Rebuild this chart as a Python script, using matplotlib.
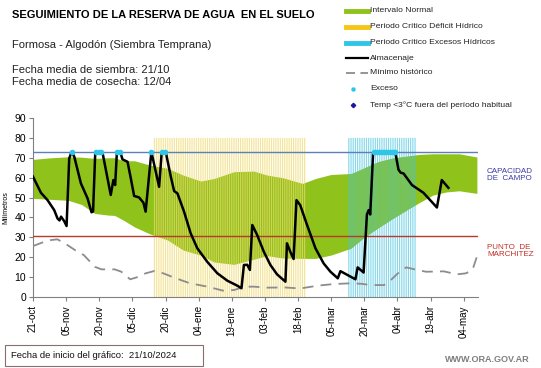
import numpy as np
import matplotlib
matplotlib.use("Agg")
import matplotlib.pyplot as plt
from matplotlib.lines import Line2D
from matplotlib.patches import Rectangle

plt.rcParams['font.family'] = ['Liberation Sans', 'DejaVu Sans']

# ---------------- data (x = days since 21/10/2024) ----------------
tick_days = [0, 15, 30, 45, 60, 75, 90, 105, 120, 135, 150, 165, 180, 195]
tick_labels = ["21-oct", "05-nov", "20-nov", "05-dic", "20-dic", "04-ene", "19-ene",
               "03-feb", "18-feb", "05-mar", "20-mar", "04-abr", "19-abr", "04-may"]

band_days = [0, 8, 16, 22, 28, 34, 37, 41, 46, 53, 61, 68, 76, 82, 91, 100, 106,
             113, 122, 128, 135, 144, 150, 156, 163, 170, 175, 181, 187, 193, 201]
band_upper = [69.2, 70.0, 70.5, 70.3, 69.7, 70.0, 70.0, 68.5, 68.5, 66.3, 64.7, 61.3,
              58.3, 59.6, 63.0, 63.3, 61.3, 60.0, 57.1, 59.6, 61.6, 62.1, 65.0, 68.0,
              70.0, 71.0, 71.7, 72.0, 72.0, 72.0, 70.4]
band_lower = [49.6, 49.1, 48.6, 46.5, 42.0, 41.2, 41.0, 38.6, 35.2, 31.7, 28.6, 23.6,
              21.0, 17.6, 16.4, 19.0, 20.8, 19.6, 19.4, 19.4, 21.1, 24.5, 30.0, 34.5,
              39.5, 44.2, 47.5, 51.2, 52.8, 53.4, 52.1]

min_days = [0, 4, 8, 11, 14, 19, 23, 28, 31, 37, 40, 44, 47, 51, 55, 59, 64, 71, 79,
            86, 91, 96, 100, 106, 114, 121, 129, 136, 144, 149, 153, 159, 162, 166,
            169, 174, 178, 186, 192, 196, 199, 201]
min_vals = [25.6, 27.3, 28.6, 29.0, 27.3, 23.6, 21.1, 15.2, 13.9, 13.9, 12.7, 8.9,
            9.9, 11.9, 13.1, 11.9, 9.7, 6.9, 5.2, 3.2, 3.5, 5.2, 5.2, 4.7, 4.8, 4.3,
            5.7, 6.5, 6.9, 6.6, 6.0, 6.0, 8.5, 12.7, 14.9, 13.6, 12.7, 12.9, 11.4,
            11.9, 13.6, 20.3]

alm_days = [0, 3.6, 6.6, 9.6, 11.1, 12.0, 12.7, 14.1, 15.2, 16.4, 17.5, 18.7, 21.7,
            24.7, 26.5, 27.2, 28.2, 31.5, 35.2, 36.4, 37.2, 38.0, 39.5, 40.5, 42.8,
            44.3, 45.8, 48.0, 50.0, 51.0, 53.6, 57.1, 58.3, 60.1, 62.4, 63.9, 65.4,
            68.4, 71.4, 74.4, 78.9, 83.5, 88.0, 92.5, 94.4, 95.5, 97.0, 98.2, 99.3,
            101.5, 104.5, 107.5, 110.5, 114.3, 115.0, 116.5, 118.0, 119.3, 121.0,
            124.1, 127.9, 131.6, 134.7, 138.0, 139.2, 146.0, 147.0, 149.7, 151.2,
            152.0, 152.7, 154.0, 164.0, 165.5, 166.5, 167.8, 171.6, 176.8, 182.9,
            185.1, 188.1]
alm_vals = [60.5, 52.4, 48.7, 43.7, 39.5, 38.5, 40.4, 38.2, 35.7, 69.7, 73.0, 70.5,
            57.1, 49.6, 42.6, 43.0, 73.0, 72.5, 51.3, 58.8, 56.3, 73.0, 73.0, 69.2,
            68.0, 59.6, 50.8, 50.1, 47.4, 42.9, 73.0, 55.4, 73.0, 73.0, 60.5, 53.3,
            52.1, 42.9, 32.0, 24.5, 17.7, 11.9, 8.2, 5.7, 4.4, 16.1, 16.2, 13.6, 36.2,
            31.2, 22.8, 16.1, 11.4, 7.7, 27.0, 22.8, 19.1, 48.7, 46.2, 36.2, 24.5,
            16.9, 12.7, 9.4, 13.0, 8.9, 14.9, 12.3, 41.5, 43.7, 41.5, 72.5, 73.0,
            64.0, 62.5, 62.1, 56.3, 52.4, 45.0, 58.8, 54.9]

exceso_days = [17.5, 28.5, 29.7, 31.0, 38.0, 39.3, 53.6, 58.3, 59.8,
               154.5, 155.5, 156.5, 157.5, 158.5, 159.5, 160.5, 161.5, 162.5, 163.5, 164.0]

capacidad_campo = 73.0
punto_marchitez = 30.6

deficit_period = (55, 123)   # Periodo Crítico Déficit Hídrico
exceso_period = (143, 173)   # Periodo Crítico Excesos Hídricos
period_top = 80

# ---------------- figure ----------------
W, H = 541, 368
fig = plt.figure(figsize=(W / 100, H / 100), dpi=100)
ax = fig.add_axes([33 / W, 1 - 297 / H, (478 - 33) / W, (297 - 118) / H])

green = "#8fc21b"
ax.fill_between(band_days, band_lower, band_upper, color=green, lw=0, zorder=1)

d_days = np.arange(deficit_period[0], deficit_period[1] + 1)
vl1 = ax.vlines(d_days, 0, period_top, colors="#efd96c", lw=0.85, alpha=0.7, zorder=2)
vl1.set_snap(False)
e_days = np.arange(exceso_period[0], exceso_period[1] + 1)
vl2 = ax.vlines(e_days, 0, period_top, colors="#46c4e0", lw=0.85, alpha=0.65, zorder=2)
vl2.set_snap(False)

ax.axhline(capacidad_campo, color="#5f7fb8", lw=1.0, zorder=3)
ax.axhline(punto_marchitez, color="#b8392e", lw=1.0, zorder=3)

ax.plot(min_days, min_vals, color="#8c8c8c", lw=1.3, dashes=(6, 4), zorder=4)
ax.plot(alm_days, alm_vals, color="black", lw=1.8, zorder=5, solid_joinstyle="round")
ax.plot(exceso_days, [capacidad_campo] * len(exceso_days), ls="none", marker="o",
        ms=3.0, color="#2ec6e8", zorder=6)

ax.set_xlim(0, 201.5)
ax.set_ylim(0, 90)
ax.set_yticks(range(0, 91, 10))
ax.set_xticks(tick_days)
ax.set_xticklabels(tick_labels, rotation=90, fontsize=7)
ax.tick_params(axis='y', labelsize=7.5, length=3, color="#808080", pad=2)
ax.tick_params(axis='x', length=3, color="#808080", pad=3)
for s in ["top", "right"]:
    ax.spines[s].set_visible(False)
for s in ["left", "bottom"]:
    ax.spines[s].set_color("#808080")
ax.set_ylabel("Milímetros", fontsize=5, labelpad=4)

# ---------------- texts ----------------
fig.text(12 / W, 1 - 15 / H, "SEGUIMIENTO DE LA RESERVA DE AGUA  EN EL SUELO",
         fontsize=8, fontweight="bold", va="center", ha="left")
fig.text(12 / W, 1 - 45 / H, "Formosa - Algodón (Siembra Temprana)",
         fontsize=8, va="center", ha="left", color="#222222")
fig.text(12 / W, 1 - 70 / H, "Fecha media de siembra: 21/10",
         fontsize=8, va="center", ha="left", color="#222222")
fig.text(12 / W, 1 - 82 / H, "Fecha media de cosecha: 12/04",
         fontsize=8, va="center", ha="left", color="#222222")

fig.text(487 / W, 1 - 175 / H, "CAPACIDAD\nDE  CAMPO", fontsize=5.8, color="#3a3aa8",
         va="center", ha="left", linespacing=1.1)
fig.text(487 / W, 1 - 251 / H, "PUNTO  DE\nMARCHITEZ", fontsize=5.8, color="#c0302a",
         va="center", ha="left", linespacing=1.1)

# legend (manual)
lx0, lx1, tx = 346 / W, 368 / W, 370 / W
def fy(py):
    return 1 - py / H
leg = [
    ("line", dict(color=green, lw=3.5), 11, "Intervalo Normal"),
    ("line", dict(color="#f5c518", lw=3.5), 27, "Periodo Crítico Déficit Hídrico"),
    ("line", dict(color="#2ec6e8", lw=3.5), 43, "Periodo Crítico Excesos Hídricos"),
    ("line", dict(color="black", lw=1.6), 58, "Almacenaje"),
    ("line", dict(color="#8c8c8c", lw=1.3, dashes=(5, 3)), 73, "Mínimo histórico"),
    ("mark", dict(marker="o", ms=2.2, color="#2ec6e8"), 89, "Exceso"),
    ("mark", dict(marker="D", ms=2.2, color="#1a1a9a"), 105, "Temp <3°C fuera del período habitual"),
]
for kind, kw, py, label in leg:
    if kind == "line":
        fig.add_artist(Line2D([lx0, lx1], [fy(py), fy(py)], transform=fig.transFigure, **kw))
    else:
        fig.add_artist(Line2D([353 / W], [fy(py)], transform=fig.transFigure, ls="none", **kw))
    fig.text(tx, fy(py), label, fontsize=6.1, va="center", ha="left", color="#222222")

# bottom box
fig.add_artist(Rectangle((5 / W, 1 - 366 / H), 198 / W, 21 / H, transform=fig.transFigure,
                         fill=False, ec="#8a6e6e", lw=0.8))
fig.text(11 / W, 1 - 355.5 / H, "Fecha de inicio del gráfico:  21/10/2024", fontsize=6.8,
         va="center", ha="left", color="#111111")
fig.text(530 / W, 1 - 359 / H, "WWW.ORA.GOV.AR", fontsize=6.5, va="center", ha="right",
         color="#7f7f7f", fontweight="bold")

fig.savefig("out.png", dpi=100)
